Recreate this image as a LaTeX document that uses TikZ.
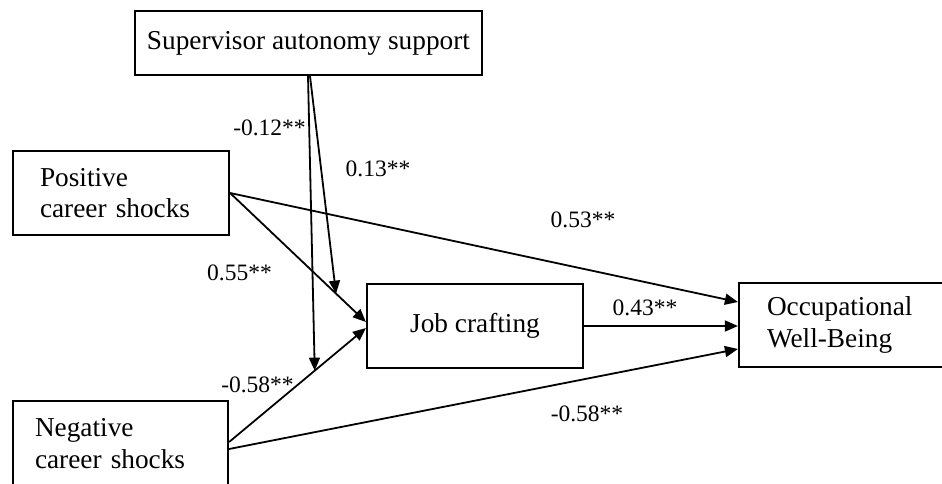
\documentclass[tikz,border=0pt]{standalone}
\usepackage{fontspec}
\setmainfont{Liberation Serif}
\usetikzlibrary{arrows.meta,calc}
\begin{document}
\begin{tikzpicture}[x=1pt,y=-1pt,
  box/.style={draw, line width=2.2pt, rectangle, inner sep=0pt,
    font=\fontsize{27.3}{31.5}\selectfont},
  leftbox/.style={box, align=left, inner ysep=0pt},
  link/.style={line width=1.8pt, -{Triangle[length=13pt,width=11pt]}},
  coef/.style={inner sep=0pt, font=\fontsize{23.5}{27}\selectfont}]
\useasboundingbox[fill=white] (0,0) rectangle (942,484);

% variables
\node[box, minimum width=347pt, minimum height=64pt] (sup) at (308.5,43)
  {Supervisor autonomy support};
\node[leftbox, inner xsep=27pt, text width=162pt, minimum height=84pt] (pos)
  at (121,193) {Positive\\career shocks};
\node[leftbox, inner xsep=22pt, text width=171pt, minimum height=85pt] (neg)
  at (120.5,443.5) {Negative\\career shocks};
\node[box, minimum width=216pt, minimum height=84pt] (job) at (475,326)
  {Job crafting};
\node[leftbox, inner xsep=28pt, text width=150pt, minimum height=84pt] (occ)
  at (842,325) {Occupational\\Well-Being};

% direct paths
\draw[link] (pos.east) -- ($(job.west)+(0,-4)$);
\draw[link] (pos.east) -- ($(occ.west)+(0,-23)$);
\draw[link] ($(neg.east)+(0,-1.5)$) -- ($(job.west)+(0,2)$);
\draw[link] ($(neg.east)+(0,5.5)$) -- ($(occ.west)+(0,24)$);
\draw[link] (job.east) -- (occ.west |- job.east);

% moderation paths onto the shock paths
\path (pos.east) -- ($(job.west)+(0,-4)$) coordinate[pos=0.78] (m1);
\path ($(neg.east)+(0,-1.5)$) -- ($(job.west)+(0,2)$) coordinate[pos=0.626] (m2);
\draw[link] ($(sup.south)+(-0.5,0)$) -- (m2);
\draw[link] ($(sup.south)+(1.5,0)$) -- (m1);

% coefficients
\node[coef] (c1) at (269.5,128) {-0.12**};
\node[coef] (c2) at (378,169) {0.13**};
\node[coef] (c3) at (239.5,273) {0.55**};
\node[coef] (c4) at (583,220) {0.53**};
\node[coef] (c5) at (645,308) {0.43**};
\node[coef] (c6) at (257.5,385) {-0.58**};
\node[coef] (c7) at (587,414) {-0.58**};
\end{tikzpicture}
\end{document}
